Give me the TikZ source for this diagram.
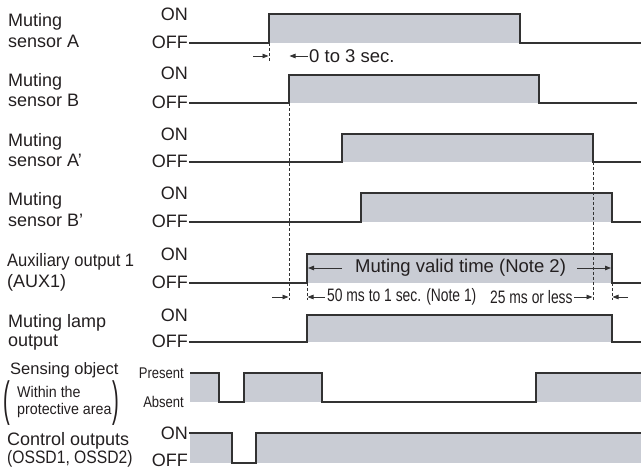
\documentclass[tikz,border=0pt]{standalone}
\usepackage{fontspec}
\usepackage{graphicx}
\setmainfont{Liberation Sans}
\newfontfamily\condA[FakeStretch=0.77]{Liberation Sans}
\newfontfamily\condB[FakeStretch=0.84]{Liberation Sans}
\newfontfamily\condC[FakeStretch=0.92]{Liberation Sans}
\newfontfamily\condD[FakeStretch=0.87]{Liberation Sans}
\usetikzlibrary{arrows.meta}
\definecolor{fillc}{RGB}{201,204,212}
\definecolor{linec}{RGB}{50,50,50}
\definecolor{txtc}{RGB}{35,31,32}
\newcommand\bigsize{\fontsize{18}{21}\selectfont}
\newcommand\notesize{\fontsize{18.5}{21}\selectfont}
\newcommand\midsize{\fontsize{16.5}{19}\selectfont}
\newcommand\smsize{\fontsize{15.5}{18}\selectfont}
\newcommand\pulserow[6]{%
  \fill[fillc] (#4,#3) rectangle (#5,#2);
  \draw[sig] (#1,#2) -- (#4,#2) -- (#4,#3) -- (#5,#3) -- (#5,#2) -- (#6,#2);}
\begin{document}
\begin{tikzpicture}[x=1pt,y=-1pt,
  sig/.style={draw=linec,line width=1.3pt,line join=miter},
  dashln/.style={draw=linec,line width=0.9pt,dash pattern=on 3pt off 2pt},
  dimarrow/.style={draw=linec,line width=0.8pt,-{Triangle[length=6pt,width=4.5pt]}},
  lbl/.style={anchor=base west,inner sep=0pt,text=txtc,font=\bigsize},
  onoff/.style={anchor=east,inner sep=0pt,text=txtc,font=\bigsize},
  note/.style={anchor=west,inner sep=0pt,text=txtc,font=\bigsize},
  paren/.style={inner sep=0pt,text=txtc,font=\smsize}]
\useasboundingbox (0,0) rectangle (641,473);
% ---- signals ----
\pulserow{189}{43}{14}{269}{520}{641}
\pulserow{189}{103}{75}{289}{539}{637}
\pulserow{189}{162}{134}{342}{593}{641}
\pulserow{189}{222}{193}{361}{612}{641}
\pulserow{189}{283}{254}{307}{612}{641}
\pulserow{189}{342}{315}{307}{612}{641}
% sensing object
\fill[fillc] (190,373) rectangle (219,402);
\fill[fillc] (244,373) rectangle (322,402);
\fill[fillc] (536,373) rectangle (641,402);
% control outputs
\fill[fillc] (190,433) rectangle (232,463);
\fill[fillc] (256,433) rectangle (641,463);
% ---- dashed guides ----
\draw[dashln] (269,43) -- (269,62);
\draw[dashln] (289,103) -- (289,300);
\draw[dashln] (593,162) -- (593,300);
\draw[dashln] (307,283) -- (307,300);
\draw[dashln] (612,283) -- (612,300);
\draw[sig] (190,373) -- (219,373) -- (219,402) -- (244,402) -- (244,373) -- (322,373)
  -- (322,402) -- (536,402) -- (536,373) -- (641,373);
\draw[sig] (189,433) -- (232,433) -- (232,463) -- (256,463) -- (256,433) -- (641,433);
% ---- left labels ----
\node[lbl] (la1) at (8,26.5) {Muting};
\node[lbl] (la2) at (8,47.5) {sensor A};
\node[lbl] (lb1) at (8,86.5) {Muting};
\node[lbl] (lb2) at (8,107) {sensor B};
\node[lbl] (lc1) at (8,146.5) {Muting};
\node[lbl] (lc2) at (8,166.5) {sensor A’};
\node[lbl] (ld1) at (8,205.5) {Muting};
\node[lbl] (ld2) at (8,226.5) {sensor B’};
\node[lbl,font=\bigsize\condC] (le1) at (7,266.5) {Auxiliary output 1};
\node[lbl] (le2) at (7,287.5) {(AUX1)};
\node[lbl] (lf1) at (8,327.5) {Muting lamp};
\node[lbl] (lf2) at (8,346.5) {output};
\node[lbl,font=\midsize] (lg1) at (10,375) {Sensing object};
\node[lbl,font=\smsize\condC] (lg2) at (17,398) {Within the};
\node[lbl,font=\smsize\condC] (lg3) at (17,415) {protective area};
\node[paren] (lpar) at (6.5,403.5) {\scalebox{1.3}[3.1]{(}};
\node[paren] (rpar) at (116,403.5) {\scalebox{1.3}[3.1]{)}};
\node[lbl] (lh1) at (7,446) {Control outputs};
\node[lbl,font=\bigsize\condD] (lh2) at (7,464) {(OSSD1, OSSD2)};
% ---- ON/OFF labels ----
\node[onoff] (aon) at (188,14) {ON};
\node[onoff] (aoff) at (188,42) {OFF};
\node[onoff] (bon) at (188,73) {ON};
\node[onoff] (boff) at (188,102) {OFF};
\node[onoff] (con) at (188,134) {ON};
\node[onoff] (coff) at (188,161) {OFF};
\node[onoff] (don) at (188,193) {ON};
\node[onoff] (doff) at (188,221) {OFF};
\node[onoff] (eon) at (188,254) {ON};
\node[onoff] (eoff) at (188,282) {OFF};
\node[onoff] (fon) at (188,315) {ON};
\node[onoff] (foff) at (188,341) {OFF};
\node[onoff,font=\smsize\condB] (gon) at (184,373) {Present};
\node[onoff,font=\smsize\condB] (goff) at (184,402) {Absent};
\node[onoff] (hon) at (188,433) {ON};
\node[onoff] (hoff) at (188,460) {OFF};
% ---- dimension arrows and notes ----
\coordinate (d1a) at (253,56);  \coordinate (d1b) at (268.5,56);
\coordinate (d1c) at (308,56);  \coordinate (d1d) at (289.5,56);
\draw[dimarrow] (d1a) -- (d1b);
\draw[dimarrow] (d1c) -- (d1d);
\node[note,font=\notesize] (t03) at (309,56) {0 to 3 sec.};
% muting valid time
\coordinate (mv1) at (342,268); \coordinate (mv2) at (308,268);
\coordinate (mv3) at (577,268); \coordinate (mv4) at (611,268);
\node[note,font=\notesize] (mvt) at (355,268) {Muting valid time (Note 2)};
\draw[dimarrow] (mv1) -- (mv2);
\draw[dimarrow] (mv3) -- (mv4);
% lower dimension row
\coordinate (r1a) at (272,297); \coordinate (r1b) at (288.5,297);
\coordinate (r2a) at (325,297); \coordinate (r2b) at (307.5,297);
\coordinate (r3a) at (574,297); \coordinate (r3b) at (592.5,297);
\coordinate (r4a) at (628,297); \coordinate (r4b) at (612.5,297);
\draw[dimarrow] (r1a) -- (r1b);
\draw[dimarrow] (r2a) -- (r2b);
\draw[dimarrow] (r3a) -- (r3b);
\draw[dimarrow] (r4a) -- (r4b);
\node[note,font=\bigsize\condA] (n1) at (327,297) {50 ms to 1 sec. (Note 1)};
\node[note,font=\bigsize\condA] (n2) at (490,297) {25 ms or less};
\end{tikzpicture}
\end{document}
